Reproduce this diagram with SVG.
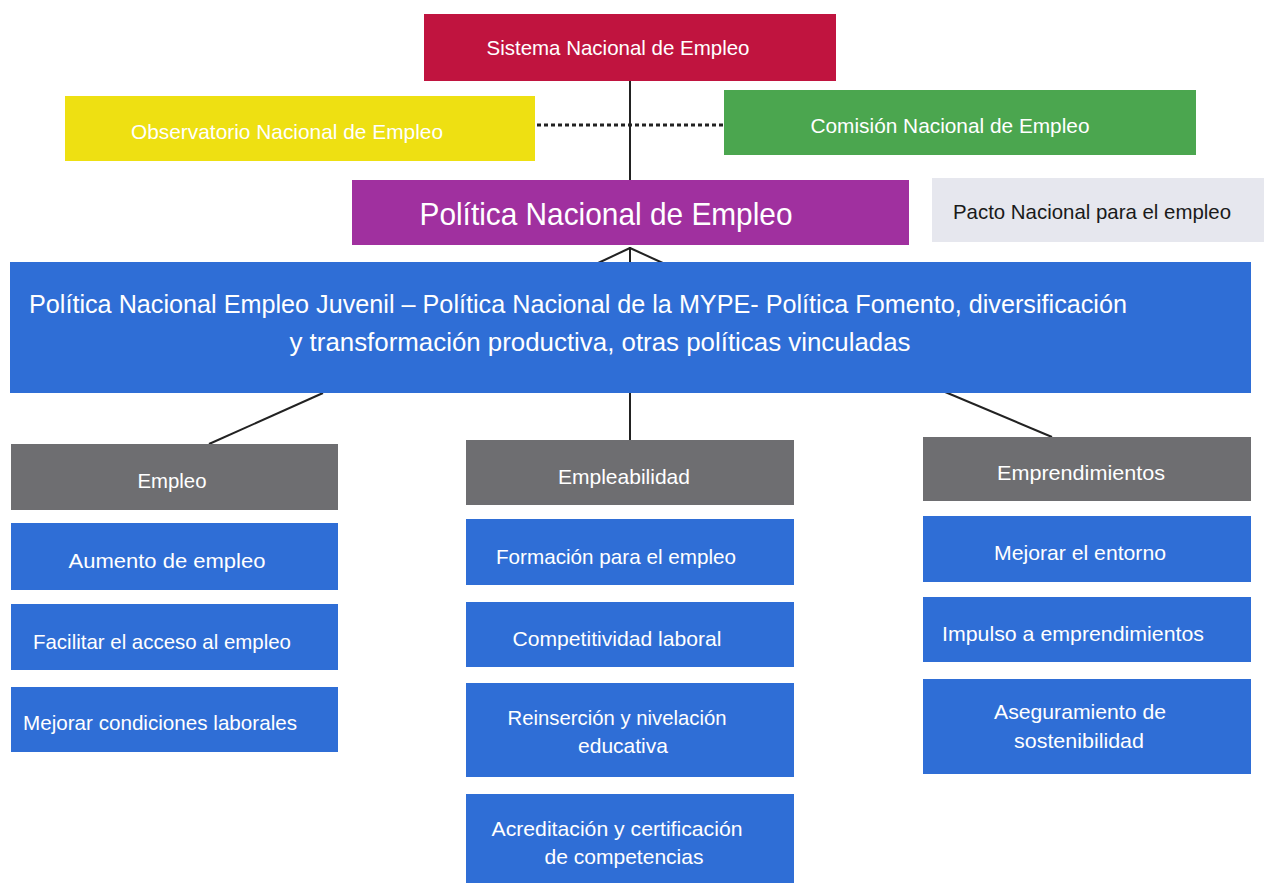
<svg xmlns="http://www.w3.org/2000/svg" width="1264" height="883" viewBox="0 0 1264 883">
<style>
text{font-family:"Liberation Sans Narrow","Liberation Sans",Arial,sans-serif;fill:#fff;text-anchor:middle}
.t{font-size:21px}
.dark{fill:#1a1a1a}
.blue{fill:#2F6ED6}
.gray{fill:#6E6E71}
.ln{stroke:#222;stroke-width:2;fill:none}
</style>
<rect width="1264" height="883" fill="#fff"/>
<g id="connectors">
<line class="ln" x1="630" y1="81" x2="630" y2="180"/>
<line x1="537" y1="125" x2="723" y2="125" stroke="#222" stroke-width="3" stroke-dasharray="4,3"/>
<line class="ln" x1="630" y1="247" x2="630" y2="263"/>
<line class="ln" x1="630" y1="248" x2="596" y2="264"/>
<line class="ln" x1="630" y1="248" x2="665" y2="264"/>
<line class="ln" x1="323" y1="393" x2="209" y2="444"/>
<line class="ln" x1="630" y1="393" x2="630" y2="440"/>
<line class="ln" x1="938" y1="389" x2="1052" y2="437"/>
</g>
<g id="sistema"><rect x="424" y="14" width="412" height="67" fill="#C0143F"/><text class="t" x="618" y="55" font-size="22" textLength="263" lengthAdjust="spacingAndGlyphs">Sistema Nacional de Empleo</text></g>
<g id="observatorio"><rect x="65" y="96" width="470" height="65" fill="#EEE012"/><text class="t" x="287" y="139" font-size="22" textLength="312" lengthAdjust="spacingAndGlyphs">Observatorio Nacional de Empleo</text></g>
<g id="comision"><rect x="724" y="90" width="472" height="65" fill="#4BA64F"/><text class="t" x="950" y="133" font-size="22" textLength="279" lengthAdjust="spacingAndGlyphs">Comisión Nacional de Empleo</text></g>
<g id="politica"><rect x="352" y="180" width="557" height="65" fill="#A0309F"/><text x="606" y="225" font-size="32" textLength="373" lengthAdjust="spacingAndGlyphs">Política Nacional de Empleo</text></g>
<g id="pacto"><rect x="932" y="178" width="332" height="64" fill="#E6E7EE"/><text class="t dark" x="1092" y="219" textLength="278" lengthAdjust="spacingAndGlyphs">Pacto Nacional para el empleo</text></g>
<g id="politicas"><rect class="blue" x="10" y="262" width="1241" height="131"/>
<text x="578" y="313" font-size="26" textLength="1098" lengthAdjust="spacingAndGlyphs">Política  Nacional Empleo Juvenil – Política Nacional de la MYPE- Política Fomento, diversificación</text>
<text x="600" y="351" font-size="26" textLength="621" lengthAdjust="spacingAndGlyphs">y transformación productiva, otras políticas vinculadas</text></g>
<g id="empleo"><rect class="gray" x="11" y="444" width="327" height="66"/><text class="t" x="172" y="488" textLength="69" lengthAdjust="spacingAndGlyphs">Empleo</text></g>
<g id="empleabilidad"><rect class="gray" x="466" y="440" width="328" height="65"/><text class="t" x="624" y="484" textLength="132" lengthAdjust="spacingAndGlyphs">Empleabilidad</text></g>
<g id="emprendimientos"><rect class="gray" x="923" y="437" width="328" height="64"/><text class="t" x="1081" y="480" textLength="168" lengthAdjust="spacingAndGlyphs">Emprendimientos</text></g>
<g id="aumento"><rect class="blue" x="11" y="523" width="327" height="67"/><text class="t" x="167" y="568" textLength="197" lengthAdjust="spacingAndGlyphs">Aumento  de empleo</text></g>
<g id="facilitar"><rect class="blue" x="11" y="604" width="327" height="66"/><text class="t" x="162" y="649" textLength="258" lengthAdjust="spacingAndGlyphs">Facilitar el acceso al empleo</text></g>
<g id="mejorar-cond"><rect class="blue" x="11" y="687" width="327" height="65"/><text class="t" x="160" y="730" textLength="274" lengthAdjust="spacingAndGlyphs">Mejorar condiciones laborales</text></g>
<g id="formacion"><rect class="blue" x="466" y="519" width="328" height="66"/><text class="t" x="616" y="564" textLength="240" lengthAdjust="spacingAndGlyphs">Formación para el empleo</text></g>
<g id="competitividad"><rect class="blue" x="466" y="602" width="328" height="65"/><text class="t" x="617" y="646" textLength="209" lengthAdjust="spacingAndGlyphs">Competitividad laboral</text></g>
<g id="reinsercion"><rect class="blue" x="466" y="683" width="328" height="94"/><text class="t" x="617" y="725" textLength="219" lengthAdjust="spacingAndGlyphs">Reinserción y nivelación</text><text class="t" x="623" y="753" textLength="90" lengthAdjust="spacingAndGlyphs">educativa</text></g>
<g id="acreditacion"><rect class="blue" x="466" y="794" width="328" height="95"/><text class="t" x="617" y="836" textLength="251" lengthAdjust="spacingAndGlyphs">Acreditación y certificación</text><text class="t" x="624" y="864" textLength="159" lengthAdjust="spacingAndGlyphs">de competencias</text></g>
<g id="entorno"><rect class="blue" x="923" y="516" width="328" height="66"/><text class="t" x="1080" y="560" textLength="172" lengthAdjust="spacingAndGlyphs">Mejorar el entorno</text></g>
<g id="impulso"><rect class="blue" x="923" y="597" width="328" height="65"/><text class="t" x="1073" y="641" textLength="262" lengthAdjust="spacingAndGlyphs">Impulso a emprendimientos</text></g>
<g id="aseguramiento"><rect class="blue" x="923" y="679" width="328" height="95"/><text class="t" x="1080" y="719" textLength="172" lengthAdjust="spacingAndGlyphs">Aseguramiento de</text><text class="t" x="1079" y="748" textLength="130" lengthAdjust="spacingAndGlyphs">sostenibilidad</text></g>
</svg>
